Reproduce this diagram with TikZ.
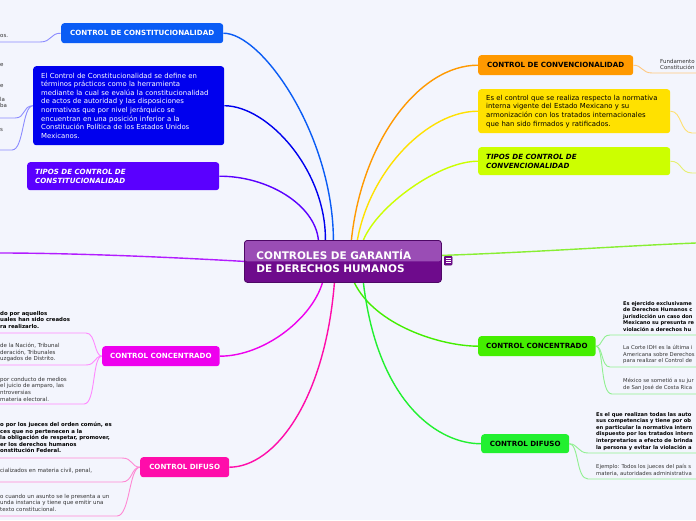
\documentclass[tikz,border=0pt]{standalone}
\usepackage{fontspec}
\setmainfont{DejaVu Sans}
\usetikzlibrary{calc}
\pgfdeclarelayer{bg}
\pgfdeclarelayer{lines}
\pgfsetlayers{bg,lines,main}
\definecolor{bgc}{HTML}{F3F5FD}
\definecolor{cBlue}{HTML}{0A5CF5}
\definecolor{cDef}{HTML}{0000EE}
\definecolor{cViolet}{HTML}{5A00FF}
\definecolor{cMag}{HTML}{EE00EE}
\definecolor{cPink}{HTML}{FF0DAA}
\definecolor{cOrange}{HTML}{FF9900}
\definecolor{cYellow}{HTML}{FFE100}
\definecolor{cLime}{HTML}{CCFF00}
\definecolor{cGreen}{HTML}{44EE00}
\definecolor{cGreenB}{HTML}{22F030}
\definecolor{rootTop}{HTML}{9A4DB5}
\definecolor{rootBot}{HTML}{6E0B8C}
\definecolor{rootEdge}{HTML}{4E0866}
\definecolor{lPurple}{HTML}{B21CFF}
\definecolor{lGreenOff}{HTML}{88EE33}
\definecolor{lBlue}{HTML}{8C8CFF}
\definecolor{lMag}{HTML}{FF88FF}
\definecolor{lPink}{HTML}{FF88D4}
\definecolor{lOrange}{HTML}{FFC880}
\definecolor{lYellow}{HTML}{FFE070}
\definecolor{lLime}{HTML}{E6F070}
\definecolor{lGreen}{HTML}{90F090}
\definecolor{txtgray}{HTML}{333333}
\tikzset{
  box/.style={rounded corners=3pt, inner xsep=8pt, inner ysep=0pt, anchor=north west},
  ttl/.style={font=\bfseries\fontsize{7.1}{8.6}\selectfont, align=center},
  ttli/.style={font=\bfseries\itshape\fontsize{7.1}{8.6}\selectfont, align=left},
  dtxt/.style={font=\fontsize{6.9}{8.6}\selectfont, align=left},
  rootbox/.style={rounded corners=3pt, inner xsep=12pt, inner ysep=0pt, anchor=north west,
    fill=rootBot, draw=rootEdge, line width=0.8pt, text=white, align=left,
    font=\bfseries\fontsize{10.5}{13}\selectfont,
    path picture={\fill[rootTop] (path picture bounding box.north west) rectangle (path picture bounding box.east);}},
  branch/.style={line width=1.4pt},
  twig/.style={line width=0.9pt},
  small/.style={font=\fontsize{5.5}{6.6}\selectfont, text=txtgray, inner sep=0pt, align=left, anchor=north west},
  smallb/.style={font=\bfseries\fontsize{5.4}{6.6}\selectfont, text=black, inner sep=0pt, align=left, anchor=north west},
}
\begin{document}
\begin{tikzpicture}[x=1pt,y=-1pt]
\useasboundingbox (0,0) rectangle (696,520);
\begin{pgfonlayer}{bg}
\fill[bgc] (0,0) rectangle (696,520);
\end{pgfonlayer}
\begin{scope}
\clip (0,0) rectangle (696,520);
% central node
\node[rootbox, minimum width=197pt, minimum height=42pt, text width=173pt] (root) at (244,240) {CONTROLES DE GARANTÍA\\DE DERECHOS HUMANOS};
\node[rounded corners=1pt, fill=rootBot, draw=rootEdge, line width=0.4pt, minimum width=8pt, minimum height=9pt, inner sep=0pt, anchor=north west] (menu) at (444,256) {};
\draw[white, line width=0.6pt] ($(menu.center)+(-2.3,-2)$) -- ++(4.6,0) ($(menu.center)+(-2.3,0)$) -- ++(4.6,0) ($(menu.center)+(-2.3,2)$) -- ++(4.6,0);

% main boxes
\node[box, fill=cBlue, text=white, ttl, minimum width=162pt, minimum height=20pt] (cc) at (61,23) {CONTROL DE CONSTITUCIONALIDAD};
\node[box, fill=cDef, text=white, dtxt, minimum width=191pt, minimum height=79pt, text width=175pt] (def) at (33,66) {El Control de Constitucionalidad se define en\\términos prácticos como la herramienta\\mediante la cual se evalúa la constitucionalidad\\de actos de autoridad y las disposiciones\\normativas que por nivel jerárquico se\\encuentran en una posición inferior a la\\Constitución Política de los Estados Unidos\\Mexicanos.};
\node[box, fill=cViolet, text=white, ttli, minimum width=192pt, minimum height=28pt, text width=176pt] (tc) at (27,162) {TIPOS DE CONTROL DE\\CONSTITUCIONALIDAD};
\node[box, fill=cMag, text=white, ttl, minimum width=116pt, minimum height=20pt] (lcon) at (102,346) {CONTROL CONCENTRADO};
\node[box, fill=cPink, text=white, ttl, minimum width=89pt, minimum height=20pt] (ldif) at (140,457) {CONTROL DIFUSO};
\node[box, fill=cOrange, text=black, ttl, minimum width=155pt, minimum height=20pt] (conv) at (478,55) {CONTROL DE CONVENCIONALIDAD};
\node[box, fill=cYellow, text=black, dtxt, minimum width=192pt, minimum height=44pt, text width=176pt] (yel) at (478,89) {Es el control que se realiza respecto la normativa\\interna vigente del Estado Mexicano y su\\armonización con los tratados internacionales\\que han sido firmados y ratificados.};
\node[box, fill=cLime, text=black, ttli, minimum width=192pt, minimum height=28pt, text width=176pt] (tconv) at (478,147) {TIPOS DE CONTROL DE\\CONVENCIONALIDAD};
\node[box, fill=cGreen, text=black, ttl, minimum width=117pt, minimum height=20pt] (rcon) at (478,336) {CONTROL CONCENTRADO};
\node[box, fill=cGreenB, text=black, ttl, minimum width=88pt, minimum height=19pt] (rdif) at (481,434) {CONTROL DIFUSO};

% free ends
\coordinate (offL) at (0,253);
\coordinate (offR) at (696,243);
\coordinate (ccA) at (0,42);
\coordinate (defA) at (0,118);
\coordinate (defB) at (0,150);
\coordinate (lcA) at (0,333);
\coordinate (lcB) at (0,365);
\coordinate (lcC) at (0,404);
\coordinate (ldA) at (0,458);
\coordinate (ldB) at (0,482);
\coordinate (ldC) at (0,516);
\coordinate (cvA) at (696,73);
\coordinate (yA) at (696,133);
\coordinate (tcvA) at (696,173);
\coordinate (rcA) at (696,335);
\coordinate (rcB) at (696,367);
\coordinate (rcC) at (696,394);
\coordinate (rdA) at (696,453);
\coordinate (rdB) at (696,479);

% texts at edges
\node[small] (t1) at (0,34) {os.};
\node[small] (t2) at (0,63) {e};
\node[small] (t3) at (0,84) {e};
\node[small] (t4) at (0,97) {la\\ba};
\node[small] (t5) at (0,128) {s};
\node[smallb] (t6) at (0,311) {do por aquellos\\uales han sido creados\\ra realizarlo.};
\node[small] (t7) at (0,343) {de la Nación, Tribunal\\deración, Tribunales\\uzgados de Distrito.};
\node[small] (t8) at (0,377) {por conducto de medios\\el juicio de amparo, las\\ntroversias\\materia electoral.};
\node[smallb] (t9) at (0,422) {o por los jueces del orden común, es\\ces que no pertenecen a la\\la obligación de respetar, promover,\\er los derechos humanos\\onstitución Federal.};
\node[small] (t10) at (0,468) {cializados en materia civil, penal,};
\node[small] (t11) at (0,494) {o cuando un asunto se le presenta a un\\unda instancia y tiene que emitir una\\texto constitucional.};
\node[small] (t12) at (660,59) {Fundamento\\Constitución};
\node[smallb, font=\bfseries\fontsize{5.1}{6.6}\selectfont] (t13) at (623,301) {Es ejercido exclusivame\\de Derechos Humanos c\\jurisdicción un caso don\\Mexicano su presunta re\\violación a derechos hu};
\node[small, font=\fontsize{5.3}{6.6}\selectfont] (t14) at (623,345) {La Corte IDH es la última i\\Americana sobre Derechos\\para realizar el Control de};
\node[small, font=\fontsize{5.3}{6.6}\selectfont] (t15) at (623,378) {México se sometió a su jur\\de San José de Costa Rica};
\node[smallb, font=\bfseries\fontsize{5.2}{6.6}\selectfont] (t16) at (596,412) {Es el que realizan todas las auto\\sus competencias y tiene por ob\\en particular la normativa intern\\dispuesto por los tratados intern\\interpretarios a efecto de brinda\\la persona y evitar la violación a};
\node[small, font=\fontsize{5.3}{6.6}\selectfont] (t17) at (596,464) {Ejemplo: Todos los jueces del país s\\materia, autoridades administrativa};
\end{scope}

\begin{pgfonlayer}{lines}
% main branches
\draw[branch, cBlue] ($(root.north)+(-9.5,0)$) .. controls (333,135) and (262,33) .. (cc.east);
\draw[branch, cDef] ($(root.north)+(-17.5,0)$) .. controls (326,170) and (268,106) .. (def.east);
\draw[branch, cViolet] ($(root.north)+(-24.5,0)$) .. controls (315,205) and (268,176) .. (tc.east);
\draw[branch, lPurple] (root.west) .. controls (150,256) and (60,253) .. (offL);
\draw[branch, cMag] ($(root.south)+(-20.5,0)$) .. controls (312,318) and (265,356) .. (lcon.east);
\draw[branch, cPink] ($(root.south)+(-8.5,0)$) .. controls (325,400) and (275,467) .. (ldif.east);
\draw[branch, cOrange] ($(root.north)+(8.5,0)$) .. controls (362,140) and (420,65) .. (conv.west);
\draw[branch, cYellow] ($(root.north)+(14.5,0)$) .. controls (370,170) and (428,111) .. (yel.west);
\draw[branch, cLime] ($(root.north)+(20.5,0)$) .. controls (378,205) and (440,161) .. (tconv.west);
\draw[branch, lGreenOff] ($(root.east)+(0,-6)$) .. controls (540,252) and (620,246) .. (offR);
\draw[branch, cGreen] ($(root.south)+(11.5,0)$) .. controls (375,325) and (440,346) .. (rcon.west);
\draw[branch, cGreenB] ($(root.south)+(20.5,0)$) .. controls (378,405) and (440,444) .. (rdif.west);
% twigs
\draw[twig, lBlue] (cc.west) .. controls (50,33) and (52,42) .. (40,42) -- (ccA);
\draw[twig, lBlue] (def.west) .. controls (22,106) and (26,118) .. (15,118) -- (defA);
\draw[twig, lBlue] (def.west) .. controls (22,106) and (24,150) .. (12,150) -- (defB);
\draw[twig, lMag] (lcon.west) .. controls (94,356) and (96,333) .. (86,333) -- (lcA);
\draw[twig, lMag] (lcon.west) .. controls (94,356) and (96,365) .. (86,365) -- (lcB);
\draw[twig, lMag] (lcon.west) .. controls (92,356) and (96,404) .. (84,404) -- (lcC);
\draw[twig, lPink] (ldif.west) .. controls (131,467) and (133,458) .. (122,458) -- (ldA);
\draw[twig, lPink] (ldif.west) .. controls (131,467) and (133,482) .. (122,482) -- (ldB);
\draw[twig, lPink] (ldif.west) .. controls (129,467) and (130,516) .. (117,516) -- (ldC);
\draw[twig, lOrange] (conv.east) .. controls (642,65) and (642,73) .. (652,73) -- (cvA);
\draw[twig, lYellow] (yel.east) .. controls (682,111) and (680,133) .. (692,133) -- (yA);
\draw[twig, lLime] (tconv.east) .. controls (682,161) and (680,173) .. (692,173) -- (tcvA);
\draw[twig, lGreen] (rcon.east) .. controls (603,346) and (601,335) .. (610,335) -- (rcA);
\draw[twig, lGreen] (rcon.east) .. controls (603,346) and (601,367) .. (610,367) -- (rcB);
\draw[twig, lGreen] (rcon.east) .. controls (604,346) and (600,394) .. (612,394) -- (rcC);
\draw[twig, lGreen] (rdif.east) .. controls (578,444) and (578,453) .. (588,453) -- (rdA);
\draw[twig, lGreen] (rdif.east) .. controls (579,444) and (576,479) .. (588,479) -- (rdB);
\end{pgfonlayer}
\end{tikzpicture}
\end{document}
